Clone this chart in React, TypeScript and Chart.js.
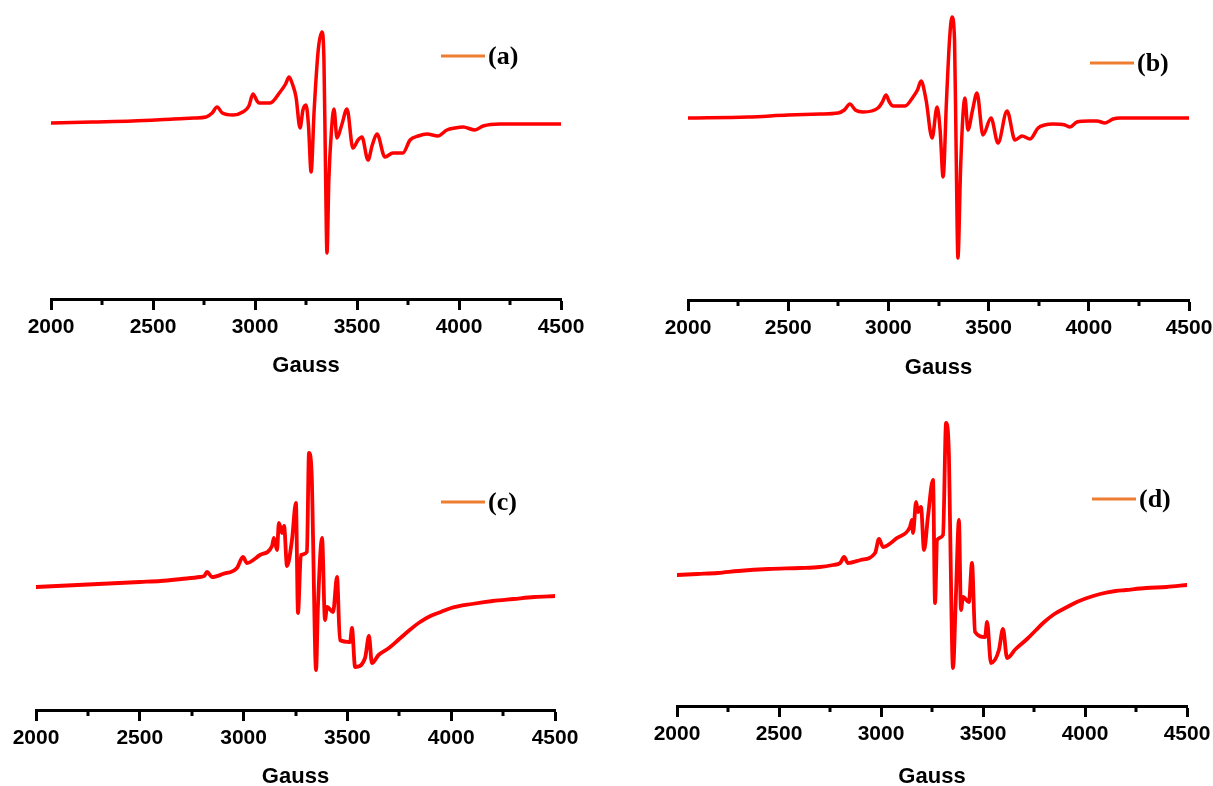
import React, { useEffect, useRef } from "react";
import { Chart, registerables } from "chart.js";

Chart.register(...registerables);

// ---------- data ----------
const MAJOR_TICKS = [2000, 2500, 3000, 3500, 4000, 4500];
const MINOR_TICKS = [2250, 2750, 3250, 3750, 4250];
const AXIS_TITLE = "Gauss";
const PANEL_LABELS = ["(a)", "(b)", "(c)", "(d)"];

const FIELD_A = [2000, 2200, 2400, 2600, 2700, 2760, 2790, 2814, 2840, 2892, 2940, 2970, 2990, 3010, 3020, 3074, 3123, 3150, 3167, 3185, 3201, 3221, 3235, 3250, 3262, 3275, 3290, 3310, 3328, 3338, 3345, 3353, 3362, 3375, 3387, 3402, 3425, 3451, 3480, 3505, 3524, 3554, 3575, 3598, 3637, 3676, 3725, 3760, 3800, 3843, 3897, 3941, 3980, 4020, 4078, 4118, 4201, 4300, 4400, 4500];
const SIGNAL_A = [176, 177, 178, 180, 181, 182, 186, 192, 186, 184, 187, 193, 205, 198, 196, 196, 207, 215, 222, 214, 202, 171, 189, 194, 174, 127, 189, 249, 267, 239, 139, 46, 119, 169, 190, 161, 174, 190, 151, 159, 162, 139, 154, 165, 142, 146, 146, 159, 163, 165, 163, 169, 171, 172, 169, 173, 175, 175, 175, 175];

const FIELD_B = [2000, 2300, 2500, 2659, 2749, 2780, 2808, 2835, 2873, 2948, 2970, 2988, 3005, 3023, 3083, 3123, 3145, 3163, 3188, 3218, 3243, 3258, 3273, 3290, 3305, 3317, 3330, 3338, 3347, 3360, 3372, 3382, 3397, 3420, 3442, 3472, 3512, 3547, 3592, 3632, 3667, 3707, 3747, 3780, 3822, 3881, 3906, 3941, 4000, 4041, 4081, 4121, 4156, 4300, 4500];
const SIGNAL_B = [182, 183, 185, 186, 187, 190, 196, 190, 188, 192, 198, 205, 198, 194, 194, 203, 210, 219, 200, 162, 193, 170, 123, 200, 260, 283, 260, 150, 42, 130, 185, 202, 170, 190, 207, 165, 182, 157, 189, 160, 164, 161, 172, 175, 176, 175, 173, 178, 179, 179, 177, 181, 182, 182, 182];

const FIELD_C = [2000, 2100, 2200, 2300, 2400, 2500, 2600, 2700, 2790, 2810, 2824, 2848, 2900, 2968, 2997, 3016, 3079, 3137, 3146, 3161, 3170, 3185, 3195, 3209, 3233, 3252, 3262, 3276, 3305, 3315, 3329, 3334, 3349, 3358, 3378, 3392, 3402, 3431, 3450, 3464, 3513, 3522, 3537, 3585, 3604, 3618, 3650, 3700, 3750, 3800, 3850, 3900, 3950, 4000, 4100, 4200, 4300, 4400, 4500];
const SIGNAL_C = [123, 124, 125, 126, 127, 128, 129, 131, 133, 134, 138, 133, 136, 142, 153, 147, 155, 164, 172, 160, 187, 177, 184, 144, 170, 207, 97, 155, 158, 257, 230, 177, 40, 103, 172, 90, 103, 98, 133, 70, 68, 82, 43, 52, 74, 47, 55, 62, 71, 80, 88, 94, 98, 102, 106, 109, 111, 113, 114];

const FIELD_D = [2000, 2100, 2200, 2300, 2450, 2603, 2700, 2765, 2800, 2819, 2838, 2900, 2971, 2990, 3010, 3078, 3142, 3152, 3157, 3172, 3181, 3196, 3211, 3230, 3255, 3265, 3275, 3304, 3319, 3333, 3338, 3353, 3367, 3382, 3392, 3402, 3431, 3446, 3461, 3510, 3520, 3539, 3578, 3598, 3618, 3660, 3716, 3760, 3800, 3850, 3912, 3960, 4010, 4074, 4150, 4200, 4300, 4400, 4500];
const SIGNAL_D = [131, 132, 133, 135, 137, 138, 139, 141, 143, 149, 143, 146, 153, 167, 159, 168, 179, 186, 173, 204, 194, 199, 156, 189, 226, 103, 166, 171, 283, 251, 189, 38, 109, 186, 96, 109, 104, 143, 74, 69, 84, 43, 56, 77, 48, 57, 67, 76, 84, 92, 99, 104, 108, 112, 115, 116, 118, 119, 121];

// ---------- layout / style ----------
const LINE_COLOR = "#ff0000";
const LEGEND_COLOR = "#ed7d31";

type PanelCfg = {
  field: number[];
  signal: number[];
  label: string;
  left: number;
  top: number;
  width: number;
  height: number;
  padLeft: number;
  padRight: number;
  padTop: number;
  axisY: number;
  yMax: number;
  titlePad: number;
  legendX: number;
  legendY: number;
  lineWidth: number;
};

const PANELS: PanelCfg[] = [
  { field: FIELD_A, signal: SIGNAL_A, label: PANEL_LABELS[0], left: 0, top: 0, width: 606, height: 395, padLeft: 51, padRight: 45, padTop: 10, axisY: 299, yMax: 289, titlePad: 16, legendX: 441, legendY: 56, lineWidth: 3.5 },
  { field: FIELD_B, signal: SIGNAL_B, label: PANEL_LABELS[1], left: 606, top: 0, width: 640, height: 395, padLeft: 82, padRight: 57, padTop: 10, axisY: 300, yMax: 290, titlePad: 14, legendX: 1090, legendY: 63, lineWidth: 3.5 },
  { field: FIELD_C, signal: SIGNAL_C, label: PANEL_LABELS[2], left: 0, top: 395, width: 606, height: 391, padLeft: 36, padRight: 51, padTop: 15, axisY: 710, yMax: 300, titlePad: -4, legendX: 441, legendY: 502, lineWidth: 3.8 },
  { field: FIELD_D, signal: SIGNAL_D, label: PANEL_LABELS[3], left: 606, top: 395, width: 640, height: 391, padLeft: 71, padRight: 59, padTop: 15, axisY: 706, yMax: 296, titlePad: -4, legendX: 1092, legendY: 499, lineWidth: 3.8 },
];

const decorPlugin = {
  id: "decor",
  afterDraw(chart: any, _args: any, opts: any) {
    const ctx = chart.ctx;
    const xs = chart.scales.x;
    ctx.save();
    ctx.strokeStyle = "#000";
    ctx.lineWidth = 3;
    for (const v of MINOR_TICKS) {
      const px = Math.round(xs.getPixelForValue(v));
      ctx.beginPath();
      ctx.moveTo(px, xs.top);
      ctx.lineTo(px, xs.top + opts.minorLen);
      ctx.stroke();
    }
    ctx.strokeStyle = LEGEND_COLOR;
    ctx.lineWidth = 3;
    ctx.beginPath();
    ctx.moveTo(opts.lx, opts.ly);
    ctx.lineTo(opts.lx + opts.lw, opts.ly);
    ctx.stroke();
    ctx.fillStyle = "#000";
    ctx.font = 'bold 26px "Liberation Serif", "Times New Roman", serif';
    ctx.textBaseline = "middle";
    ctx.textAlign = "left";
    ctx.fillText(opts.text, opts.lx + opts.lw + 3, opts.ly + 1);
    ctx.restore();
  },
};

function PanelChart({ cfg }: { cfg: PanelCfg }) {
  const ref = useRef<HTMLCanvasElement | null>(null);
  useEffect(() => {
    if (!ref.current) return;
    const points = cfg.field.map((g, i) => ({ x: g, y: cfg.signal[i] }));
    const chart = new Chart(ref.current, {
      type: "line",
      data: {
        datasets: [
          {
            label: cfg.label,
            data: points,
            borderColor: LINE_COLOR,
            backgroundColor: LINE_COLOR,
            borderWidth: cfg.lineWidth,
            pointRadius: 0,
            cubicInterpolationMode: "monotone",
            borderJoinStyle: "round",
            borderCapStyle: "round",
          } as any,
        ],
      },
      options: {
        responsive: false,
        animation: false,
        layout: { padding: { left: cfg.padLeft, right: cfg.padRight, top: cfg.padTop, bottom: 0 } },
        plugins: {
          legend: { display: false },
          tooltip: { enabled: false },
          decor: {
            minorLen: 6,
            lx: cfg.legendX - cfg.left,
            ly: cfg.legendY - cfg.top,
            lw: 44,
            text: cfg.label,
          },
        } as any,
        scales: {
          x: {
            type: "linear",
            min: 2000,
            max: 4500,
            afterBuildTicks: (scale: any) => {
              scale.ticks = MAJOR_TICKS.map((v) => ({ value: v }));
            },
            afterFit: (scale: any) => {
              scale.height = cfg.height - (cfg.axisY - cfg.top);
            },
            ticks: {
              autoSkip: false,
              maxRotation: 0,
              padding: 5,
              color: "#000",
              font: { family: '"Liberation Sans", Arial, sans-serif', size: 21, weight: "bold" },
              callback: (v: any) => String(v),
            },
            grid: {
              drawOnChartArea: false,
              drawTicks: true,
              tickLength: 11,
              tickWidth: 3,
              tickColor: "#000",
            },
            border: { display: true, color: "#000", width: 3 },
            title: {
              display: true,
              text: AXIS_TITLE,
              color: "#000",
              font: { family: '"Liberation Sans", Arial, sans-serif', size: 22, weight: "bold" },
              padding: { top: 0, bottom: cfg.titlePad },
            },
          },
          y: {
            type: "linear",
            display: false,
            min: 0,
            max: cfg.yMax,
          },
        },
      } as any,
      plugins: [decorPlugin as any],
    });
    return () => chart.destroy();
  }, [cfg]);
  return (
    <div style={{ position: "absolute", left: cfg.left, top: cfg.top, width: cfg.width, height: cfg.height }}>
      <canvas ref={ref} width={cfg.width} height={cfg.height} style={{ width: cfg.width, height: cfg.height, display: "block" }} />
    </div>
  );
}

export default function App() {
  return (
    <div style={{ position: "fixed", left: 0, top: 0, width: 1213, height: 786, background: "#fff", overflow: "hidden" }}>
      {PANELS.map((p, i) => (
        <PanelChart key={i} cfg={p} />
      ))}
    </div>
  );
}
